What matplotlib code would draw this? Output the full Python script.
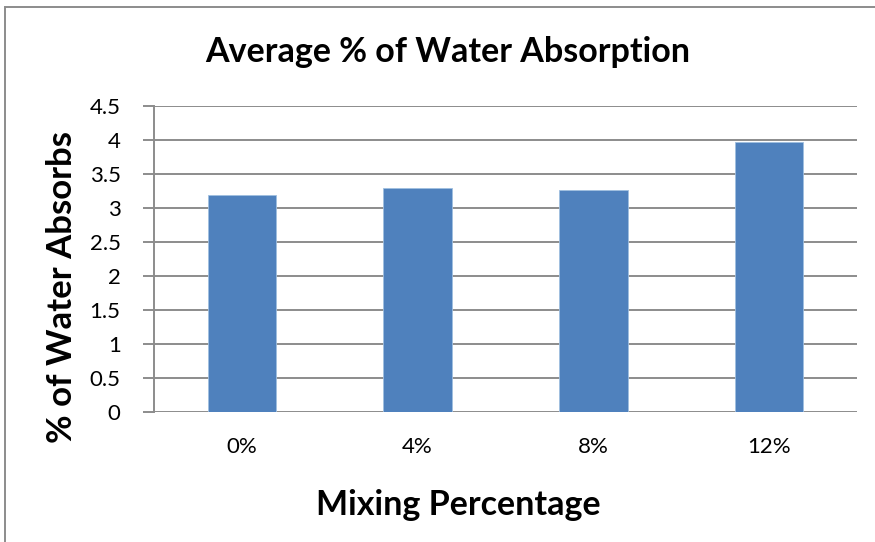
import matplotlib.pyplot as plt
from matplotlib.patches import Rectangle

plt.rcParams['font.family'] = ['Lato', 'DejaVu Sans']

# water absorption per mixing percentage
categories = ['0%', '4%', '8%', '12%']
absorption = [3.18, 3.29, 3.26, 3.96]
yticks = [0, 0.5, 1, 1.5, 2, 2.5, 3, 3.5, 4, 4.5]

W, H = 875, 542
fig = plt.figure(figsize=(W / 100, H / 100), dpi=100)
ax = fig.add_axes([154 / W, 1 - 411.7 / H, 703 / W, 306 / H])

x = range(len(categories))
ax.bar(x, absorption, width=0.39, color='#4f81bd', edgecolor='#9fbfe0',
       linewidth=0.6, zorder=3)

ax.set_xlim(-0.5, len(categories) - 0.5)
ax.set_ylim(0, 4.5)
ax.set_yticks(yticks)
ax.set_yticklabels([f'{t:g}' for t in yticks])
ax.set_xticks(list(x))
ax.set_xticklabels(categories)

ax.yaxis.grid(True, color='#8c8c8c', linewidth=1.4, zorder=0)
for side in ['top', 'right', 'bottom']:
    ax.spines[side].set_visible(False)
ax.spines['left'].set_color('#8c8c8c')
ax.spines['left'].set_linewidth(1.4)
ax.tick_params(axis='y', length=8, width=1.4, color='#8c8c8c', pad=16,
               labelsize=16)
ax.tick_params(axis='x', length=0, pad=18, labelsize=16)

# titles are centred on the whole chart area, not on the plot area
fig.text(448 / W, 1 - 52 / H, 'Average % of Water Absorption', fontsize=24.5,
         fontweight='bold', ha='center', va='center')
fig.text(458 / W, 1 - 505 / H, 'Mixing Percentage', fontsize=24.5,
         fontweight='bold', ha='center', va='center')
fig.text(62 / W, 1 - 287 / H, '% of Water Absorbs', fontsize=25,
         fontweight='bold', ha='center', va='center', rotation=90)

# chart frame
fig.patches.append(Rectangle((5 / W, -0.1), 1.2, 1 - 7 / H + 0.1,
                             transform=fig.transFigure, fill=False,
                             edgecolor='#8c8c8c', linewidth=1.4))

fig.savefig('out.png', dpi=100)
